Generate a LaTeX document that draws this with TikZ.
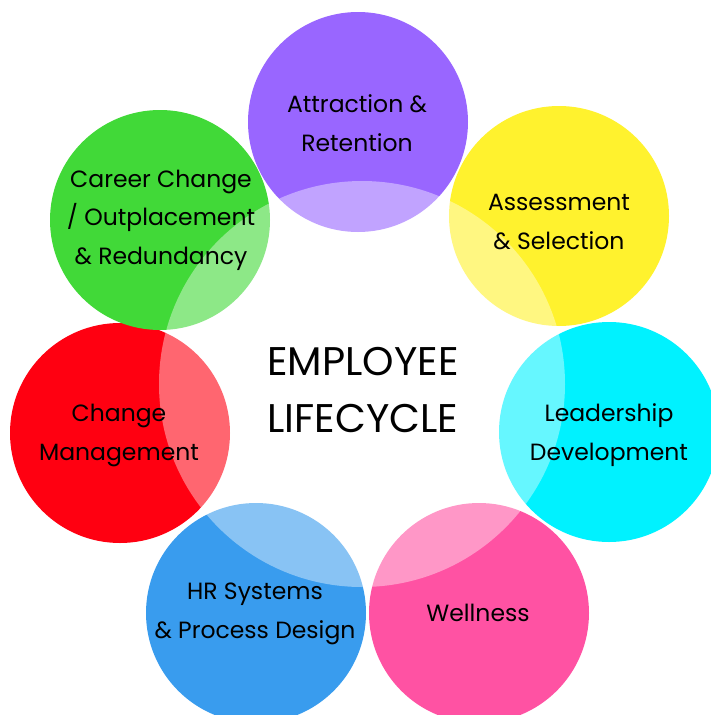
\documentclass[tikz,border=0pt]{standalone}
\usepackage{fontspec}
\setmainfont{Poppins}
\definecolor{cpurple}{RGB}{153,102,255}
\definecolor{cyellow}{RGB}{255,242,46}
\definecolor{ccyan}{RGB}{0,242,255}
\definecolor{cpink}{RGB}{255,82,163}
\definecolor{cblue}{RGB}{57,156,238}
\definecolor{cred}{RGB}{255,0,17}
\definecolor{cgreen}{RGB}{65,217,56}
\newcommand{\st}{\rule[-0.15em]{0pt}{1em}}
\tikzset{
  bubble/.style={circle, minimum size=220pt, inner sep=0pt, draw=none},
  label/.style={align=center, text=black, font=\fontsize{23.5}{38.5}\selectfont},
  title/.style={align=center, text=black, font=\fontsize{40}{57}\selectfont}
}
\begin{document}
\begin{tikzpicture}[x=1pt,y=-1pt]
\useasboundingbox (0,0) rectangle (710,715);
\fill[white] (0,0) rectangle (710,715);
% circles
\node[bubble, fill=cpurple] (purple) at (358,122) {};
\node[bubble, fill=cyellow] (yellow) at (559,216) {};
\node[bubble, fill=ccyan]   (cyan)   at (609,432) {};
\node[bubble, fill=cpink]   (pink)   at (479,613) {};
\node[bubble, fill=cblue]   (blue)   at (256,613) {};
\node[bubble, fill=cred]    (red)    at (120,433) {};
\node[bubble, fill=cgreen]  (green)  at (160,220) {};
% translucent central disc
\node[circle, minimum size=406pt, inner sep=0pt, fill=white, fill opacity=0.4, draw=none] (hub) at (362,384) {};
% labels
\node[label] (tpurple) at (357,124) {\st Attraction \&\\\st Retention};
\node[label] (tyellow) at (559,222) {\st Assessment\\\st \& Selection};
\node[label] (tcyan)   at (609,434) {\st Leadership\\\st Development};
\node[label] (tpink)   at (478,613) {\st Wellness};
\node[label] (tblue)   at (255,612) {\st HR Systems\\\st \& Process Design};
\node[label] (tred)    at (119,434) {\st Change\\\st Management};
\node[label] (tgreen)  at (161,219) {\st Career Change\\\st / Outplacement\\\st \& Redundancy};
\node[title] (ttitle)  at (363,390) {\st EMPLOYEE\\\st LIFECYCLE};
\end{tikzpicture}
\end{document}
